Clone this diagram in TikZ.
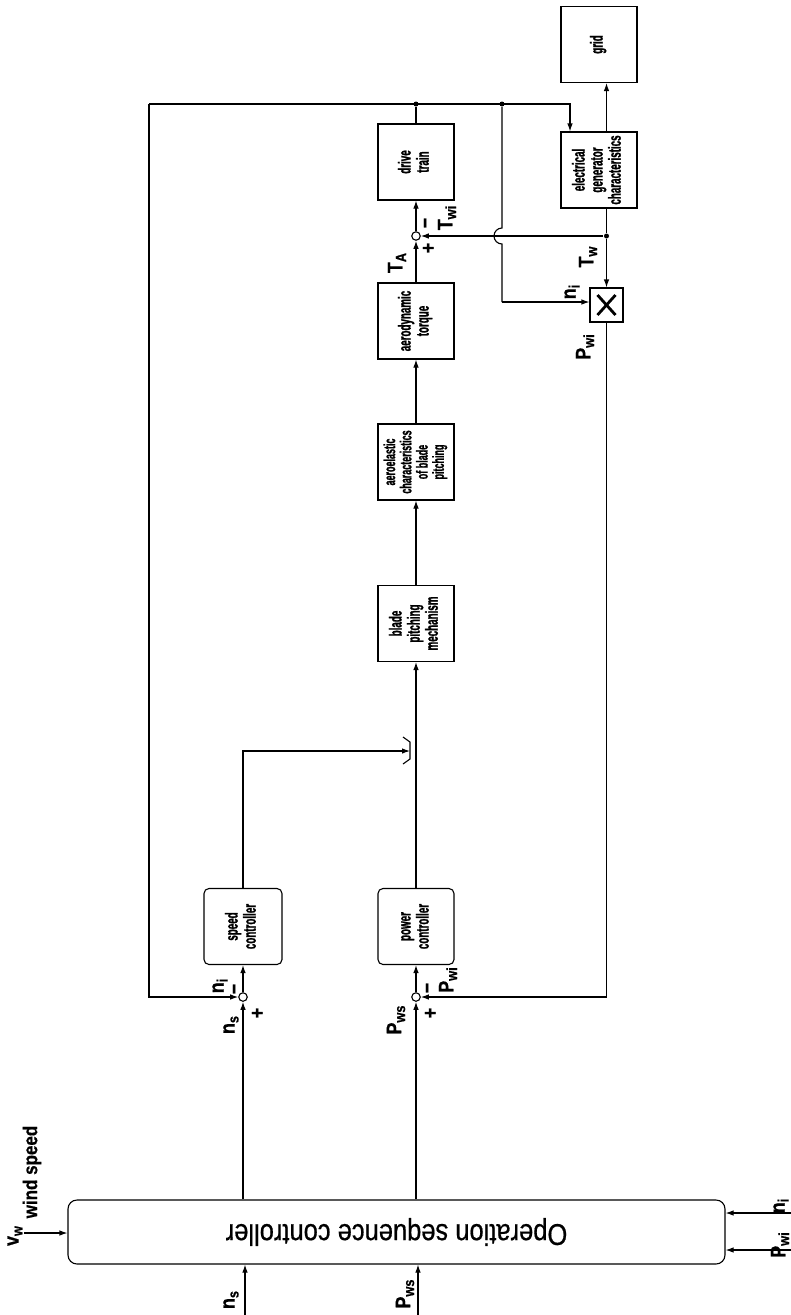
\documentclass[tikz,border=0pt]{standalone}
\usepackage{graphicx}
\usepackage{fontspec}
\setmainfont{Liberation Sans}[FakeStretch=0.82]
\newfontfamily\narrowfont{Liberation Sans}[FakeStretch=0.56,FakeBold=1.2]
\newfontfamily\labfont{Liberation Sans}[FakeStretch=0.85,FakeBold=0.6]
\usetikzlibrary{arrows.meta,calc}
\newcommand\boxtext[1]{\rotatebox{90}{\narrowfont\bfseries\fontsize{17.5}{18}\selectfont\begin{tabular}{@{}c@{}}#1\end{tabular}}}
\newcommand\sub[1]{\raisebox{-0.35ex}{\fontsize{15}{15}\selectfont #1}}
\begin{document}
\begin{tikzpicture}[x=1pt,y=-1pt, line width=1.1pt, >={Latex[length=8pt,width=5.5pt]},
 blk/.style={draw, minimum width=76pt, minimum height=76pt, inner sep=0pt},
 rblk/.style={blk, rounded corners=5pt},
 sumj/.style={circle, draw, fill=white, minimum size=8.5pt, inner sep=0pt},
 dot/.style={circle, fill, minimum size=5pt, inner sep=0pt},
 lab/.style={rotate=90, font=\labfont\bfseries\fontsize{21}{22}\selectfont, inner sep=0pt}]
\useasboundingbox (0,0) rectangle (791,1315);
% blocks
\node[blk] (grid) at (599,44.5) {\boxtext{grid}};
\node[blk] (gen) at (599,170) {\boxtext{electrical\\generator\\characteristics}};
\node[blk] (drive) at (416,162) {\boxtext{drive\\train}};
\node[blk] (aero) at (416,321) {\boxtext{aerodynamic\\torque}};
\node[blk] (elast) at (416,462) {\rotatebox{90}{\narrowfont\bfseries\fontsize{16}{15.5}\selectfont\begin{tabular}{@{}c@{}}aeroelastic\\characteristics\\of blade\\pitching\end{tabular}}};
\node[blk] (blade) at (416,623.5) {\boxtext{blade\\pitching\\mechanism}};
\node[rblk, minimum width=78pt] (speed) at (243,926.5) {\boxtext{speed\\controller}};
\node[rblk] (power) at (416,926.5) {\boxtext{power\\controller}};
\node[draw, rounded corners=9pt, minimum width=657pt, minimum height=64pt] (osc) at (396.5,1232) {\rotatebox{180}{\labfont\fontsize{30}{30}\selectfont Operation sequence controller}};
\node[draw, minimum width=33pt, minimum height=34pt] (mult) at (606.5,305) {};
% junctions
\node[sumj] (dj) at (416,236) {};
\node[sumj] (sj) at (243,997) {};
\node[sumj] (pj) at (416,997) {};
\node[dot] (d1) at (416,104) {};
\node[dot] (d2) at (502,104) {};
\node[dot] (d3) at (606.5,236) {};
\coordinate (fb) at (149,104);
\coordinate (gin) at (570,104);
\coordinate (sw) at (410,751);
\coordinate (hopT) at (502,228);
\coordinate (nic) at (502,302);
\coordinate (vin) at (24,1233);
\coordinate (nsin) at (245,1315);
\coordinate (pwsin) at (418,1315);
\coordinate (niin) at (791,1213);
\coordinate (pwiin) at (791,1250);
% connectors
\draw[->] (nsin) -- (nsin |- osc.south);
\draw[->] (pwsin) -- (pwsin |- osc.south);
\draw[->] (niin) -- (niin -| osc.east);
\draw[->] (pwiin) -- (pwiin -| osc.east);
\draw[->] (vin) -- (vin -| osc.west);
\draw[->] (osc.north -| sj) -- (sj.south);
\draw[->] (osc.north -| pj) -- (pj.south);
\draw[->] (sj.north) -- (speed.south);
\draw[->] (pj.north) -- (power.south);
\draw[->] (speed.north) |- (sw);
\draw (sw) ++(-7,-14) -- ++(7,5) -- ++(0,17) -- ++(-7,5);
\draw[->] (power.north) -- (blade.south);
\draw[->] (blade.north) -- (elast.south);
\draw[->] (elast.north) -- (aero.south);
\draw[->] (aero.north) -- (dj.south);
\draw[->] (dj.north) -- (drive.south);
\draw (drive.north) -- (d1);
\draw[->] (fb) -- (gin) -- (gin |- gen.north);
\draw[->] (fb) -- (fb |- sj) -- (sj.west);
\draw (d2) -- (hopT) arc[start angle=90, end angle=270, radius=8pt] -- (nic);
\draw[->] (nic) -- (nic -| mult.west);
\draw (gen.south -| d3) -- (d3);
\draw[->] (d3) -- (mult.north);
\draw[->] (d3) -- (dj.east);
\draw[->] (gen.north -| d3) -- (grid.south -| d3);
\draw[->] (mult.south) |- (pj.east);
\draw[line width=2.8pt] ($(mult.center)+(-9,-10)$) -- ($(mult.center)+(9,10)$);
\draw[line width=2.8pt] ($(mult.center)+(-9,10)$) -- ($(mult.center)+(9,-10)$);
% labels
\node[lab] (lvw) at (15,1236) {v\sub{w}};
\node[lab, font=\labfont\bfseries\fontsize{20}{20}\selectfont] (lwind) at (32,1172) {wind speed};
\node[lab] (lnsb) at (231,1300) {n\sub{s}};
\node[lab] (lpwsb) at (405,1294) {P\sub{ws}};
\node[lab] (lpwir) at (780,1245) {P\sub{wi}};
\node[lab] (lnir) at (781,1206) {n\sub{i}};
\node[lab] (lni1) at (220,986) {n\sub{i}};
\node[lab] (lm1) at (237,989) {−};
\node[lab] (lp1) at (258,1013) {+};
\node[lab] (lns1) at (231,1025) {n\sub{s}};
\node[lab] (lpws) at (396,1020) {P\sub{ws}};
\node[lab] (lp2) at (431,1013) {+};
\node[lab] (lm2) at (430,988) {−};
\node[lab] (lpwi) at (448,980) {P\sub{wi}};
\node[lab] (lta) at (397,263) {T\sub{A}};
\node[lab] (lp3) at (429,248) {+};
\node[lab] (lm3) at (428,223) {−};
\node[lab] (ltwi) at (447,218) {T\sub{wi}};
\node[lab] (lni2) at (572,292) {n\sub{i}};
\node[lab] (lpwi2) at (585,347) {P\sub{wi}};
\node[lab] (ltw) at (588,257) {T\sub{w}};
\end{tikzpicture}
\end{document}
